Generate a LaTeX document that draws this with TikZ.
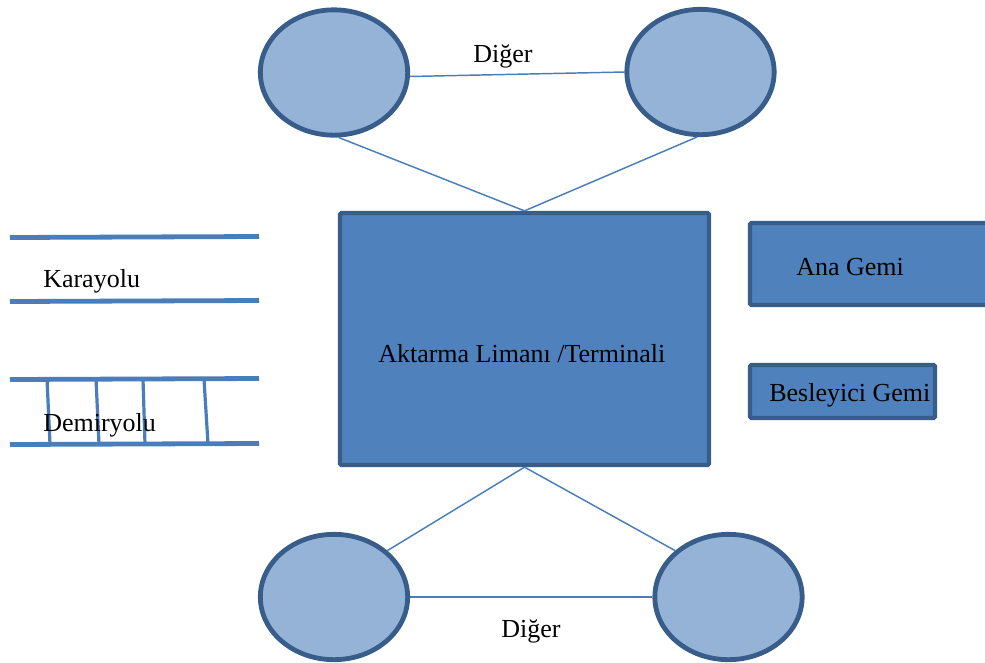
\documentclass[tikz,border=0pt]{standalone}
\usepackage{fontspec}
\setmainfont{Liberation Serif}
\usetikzlibrary{shapes.geometric}
\definecolor{boxfill}{HTML}{4F81BD}
\definecolor{boxedge}{HTML}{385D8A}
\definecolor{ovalfill}{HTML}{95B3D7}
\definecolor{linkblue}{HTML}{4A7EBB}
\tikzset{
  oval/.style={ellipse, draw=boxedge, fill=ovalfill, line width=3.6pt,
    minimum width=110.5pt, minimum height=94pt, inner sep=0pt},
  block/.style={rectangle, draw=boxedge, fill=boxfill, line width=3.2pt,
    inner sep=0pt, rounded corners=1pt},
  link/.style={draw=linkblue, line width=1.1pt},
  road/.style={draw=linkblue, line width=3.6pt},
  tie/.style={draw=linkblue, line width=2.4pt},
  txt/.style={anchor=base west, inner sep=0pt, font=\fontsize{19.5}{23}\selectfont},
}
\begin{document}
\begin{tikzpicture}[x=0.75pt, y=-0.75pt]
\useasboundingbox (0,0) rectangle (985,662);

% central terminal
\node[block, minimum width=276.75pt, minimum height=189pt] (term) at (524.5,339) {};
\node[txt] (termtxt) at (378,362) {Aktarma Limanı /Terminali};

% ships
\node[block, minimum width=180pt, minimum height=61.5pt] (ana) at (870,264) {};
\node[txt] (anatxt) at (796,275) {Ana Gemi};
\node[block, minimum width=138.75pt, minimum height=39.75pt] (besl) at (842.5,391.5) {};
\node[txt] (besltxt) at (769,401) {Besleyici Gemi};

% other modes
\node[oval] (tl) at (334,72.5) {};
\node[oval] (tr) at (700.5,72) {};
\node[oval] (bl) at (334,597) {};
\node[oval] (br) at (728.5,597) {};

\node[txt] (dtop) at (473,62) {Diğer};
\node[txt] (dbot) at (501,637) {Diğer};

% connectors
\draw[link] (tl.-3) -- (tr.180);
\draw[link] (tl.-86) -- (term.north);
\draw[link] (tr.-93) -- (term.north);
\draw[link] (term.south) -- (bl.41);
\draw[link] (term.south) -- (br.139);
\draw[link] (bl.east) -- (br.west);

% road
\coordinate (r1a) at (10,237.5);
\coordinate (r1b) at (259,236.5);
\coordinate (r2a) at (10,301.5);
\coordinate (r2b) at (259,300.5);
\draw[road] (r1a) -- (r1b);
\draw[road] (r2a) -- (r2b);
\node[txt] (kara) at (43,287) {Karayolu};

% railway
\coordinate (t1a) at (10,379.5);
\coordinate (t1b) at (259,378.5);
\coordinate (t2a) at (10,444.5);
\coordinate (t2b) at (259,443.5);
\foreach \xa/\xb in {47/50, 96/99, 143/145, 204/208}{
  \draw[tie] (\xa,379) -- (\xb,444);
}
\draw[road] (t1a) -- (t1b);
\draw[road] (t2a) -- (t2b);
\node[txt] (demir) at (43,431) {Demiryolu};
\end{tikzpicture}
\end{document}
